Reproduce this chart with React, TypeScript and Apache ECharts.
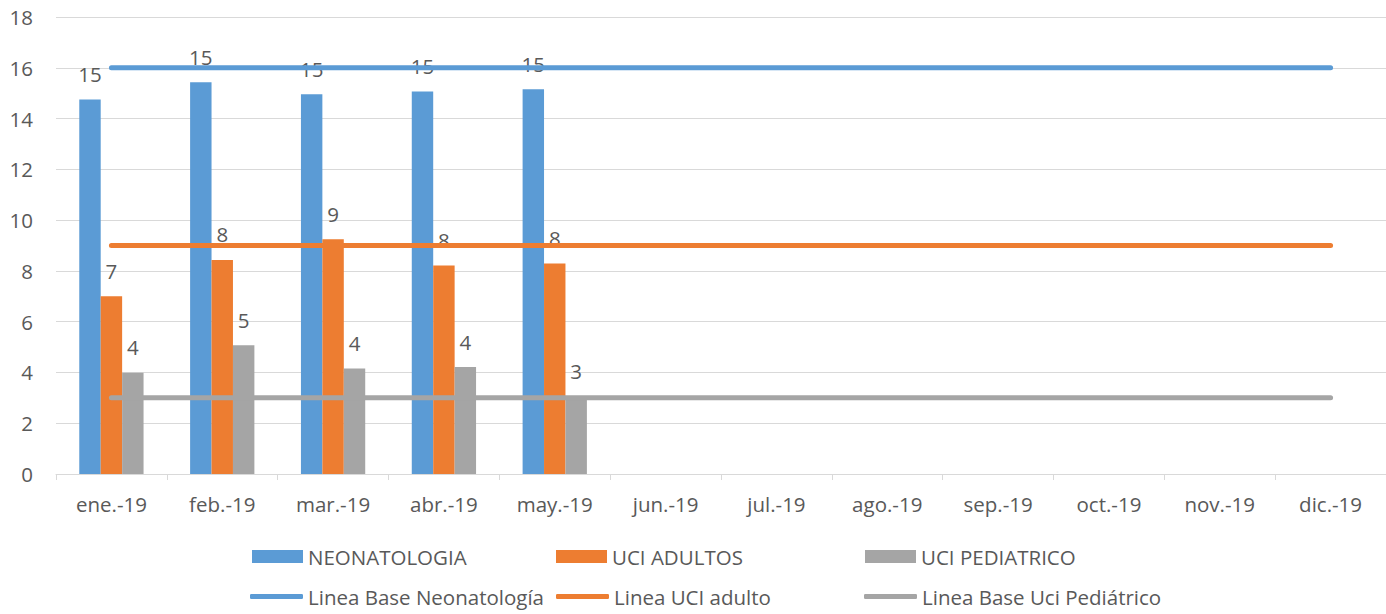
import React, { useEffect, useRef } from "react";
import * as echarts from "echarts";

const categories = ["ene.-19", "feb.-19", "mar.-19", "abr.-19", "may.-19", "jun.-19", "jul.-19", "ago.-19", "sep.-19", "oct.-19", "nov.-19", "dic.-19"];
const neonatologia = [14.75, 15.43, 14.96, 15.07, 15.15, null, null, null, null, null, null, null];
const uciAdultos = [7.0, 8.43, 9.25, 8.21, 8.29, null, null, null, null, null, null, null];
const uciPediatrico = [3.99, 5.07, 4.16, 4.21, 3.05, null, null, null, null, null, null, null];
const lineaNeo = [16, 16, 16, 16, 16, 16, 16, 16, 16, 16, 16, 16];
const lineaAdulto = [9, 9, 9, 9, 9, 9, 9, 9, 9, 9, 9, 9];
const lineaPed = [3, 3, 3, 3, 3, 3, 3, 3, 3, 3, 3, 3];

const FONT = "Open Sans";
const FS = 20.5;
const TXT = "#595959";
const BLUE = "#5B9BD5";
const ORANGE = "#ED7D31";
const GRAY = "#A5A5A5";

export default function App() {
  const ref = useRef<HTMLDivElement>(null);
  useEffect(() => {
    document.body.style.margin = "0";
    const chart = echarts.init(ref.current!, null, { renderer: "svg" });
    const barLabel = {
      show: true,
      position: "top",
      distance: 15,
      color: TXT,
      fontSize: FS,
      fontFamily: FONT,
      formatter: (p: any) => String(Math.round(p.value)),
    };
    const legendText = { color: TXT, fontSize: FS, fontFamily: FONT, lineHeight: 20 };
    const mkLegend = (name: string, left: number, top: number, isLine: boolean) => ({
      data: [name],
      left,
      top,
      padding: 0,
      icon: isLine ? "roundRect" : "rect",
      itemWidth: isLine ? 53 : 51,
      itemHeight: isLine ? 5 : 13,
      itemGap: 0,
      textStyle: legendText,
      selectedMode: false,
    });
    chart.setOption({
      animation: false,
      textStyle: { fontFamily: FONT },
      grid: { left: 56, right: 0, top: 17, bottom: 140 },
      legend: [
        mkLegend("NEONATOLOGIA", 252, 546, false),
        mkLegend("UCI ADULTOS", 556, 546, false),
        mkLegend("UCI PEDIATRICO", 865, 546, false),
        mkLegend("Linea Base Neonatología", 250, 586, true),
        mkLegend("Linea UCI adulto", 556, 586, true),
        mkLegend("Linea Base Uci Pediátrico", 864, 586, true),
      ],
      xAxis: {
        type: "category",
        data: categories,
        boundaryGap: true,
        axisLine: { lineStyle: { color: "#D9D9D9", width: 1 } },
        axisTick: { show: true, interval: 0, length: 6, lineStyle: { color: "#D9D9D9" } },
        axisLabel: { color: TXT, fontSize: FS, fontFamily: FONT, margin: 19, interval: 0 },
      },
      yAxis: {
        type: "value",
        min: 0,
        max: 18,
        interval: 2,
        axisLine: { show: false },
        axisTick: { show: false },
        splitLine: { lineStyle: { color: "#D9D9D9", width: 1 } },
        axisLabel: { color: TXT, fontSize: FS, fontFamily: FONT, margin: 23 },
      },
      series: [
        { name: "NEONATOLOGIA", type: "bar", data: neonatologia, itemStyle: { color: BLUE }, barGap: "0%", barCategoryGap: "42%", label: barLabel, z: 2 },
        { name: "UCI ADULTOS", type: "bar", data: uciAdultos, itemStyle: { color: ORANGE }, barGap: "0%", barCategoryGap: "42%", label: barLabel, z: 2 },
        { name: "UCI PEDIATRICO", type: "bar", data: uciPediatrico, itemStyle: { color: GRAY }, barGap: "0%", barCategoryGap: "42%", label: barLabel, z: 2 },
        { name: "Linea Base Neonatología", type: "line", data: lineaNeo, symbol: "none", lineStyle: { color: BLUE, width: 5, cap: "round" }, itemStyle: { color: BLUE }, z: 5 },
        { name: "Linea UCI adulto", type: "line", data: lineaAdulto, symbol: "none", lineStyle: { color: ORANGE, width: 5, cap: "round" }, itemStyle: { color: ORANGE }, z: 5 },
        { name: "Linea Base Uci Pediátrico", type: "line", data: lineaPed, symbol: "none", lineStyle: { color: GRAY, width: 5, cap: "round" }, itemStyle: { color: GRAY }, z: 5 },
      ],
    });
    return () => chart.dispose();
  }, []);
  return <div ref={ref} style={{ width: 1386, height: 614 }} />;
}
